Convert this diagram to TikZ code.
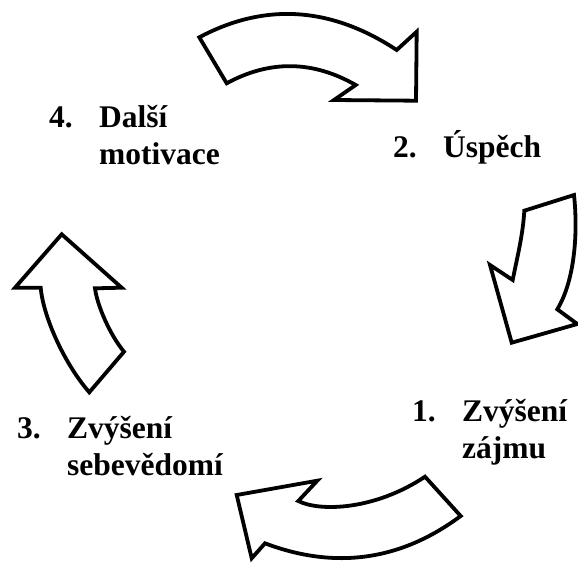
\documentclass[tikz,border=0pt]{standalone}
\usepackage{fontspec}
\setmainfont{Liberation Serif}
\begin{document}
\begin{tikzpicture}[x=1pt,y=-1pt,
  cyclearrow/.style={draw=black,fill=white,line width=3.8pt,line join=miter,miter limit=10},
  lbl/.style={inner sep=0pt,anchor=base west,font=\fontsize{31.5}{37}\selectfont\bfseries}]
\useasboundingbox (0,0) rectangle (578,563);

% top arrow: 4 -> 2
\path[cyclearrow] (199.3,37.3) .. controls (265,2.3) and (331,6.7) .. (396.7,50)
  -- (416.7,31.7) -- (416,100.7) -- (334,100) -- (355.7,85)
  .. controls (312.7,60.4) and (269.7,59.9) .. (226.7,83.3) -- cycle;

% right arrow: 2 -> 1
\path[cyclearrow] (574,195) .. controls (578,232) and (575,280) .. (557.3,309.3)
  -- (577.3,324) -- (511.7,342.7) -- (490,265) -- (512.7,280)
  .. controls (517,258) and (523,235) .. (524.3,210.7) -- cycle;

% bottom arrow: 1 -> 3
\path[cyclearrow] (425,476.7) -- (460.7,516)
  .. controls (400.5,560.7) and (335.2,569.8) .. (265,543.3)
  -- (251.7,558.3) -- (236.7,495) -- (317.3,480.7) -- (298.3,501)
  .. controls (320,512) and (375,510) .. (425,476.7) -- cycle;

% left arrow: 3 -> 4
\path[cyclearrow] (61.7,234.3) -- (121.7,287.7) -- (95,288.3)
  .. controls (97,305) and (110,335) .. (124,351.7)
  -- (89.3,392.3)
  .. controls (63,362) and (43,315) .. (40.7,287.7)
  -- (15,287.7) -- cycle;

% labels
\node[lbl] (n4) at (49,127.5) {4.};
\node[lbl] (t4a) at (99,127.5) {Další};
\node[lbl] (t4b) at (99,164) {motivace};

\node[lbl] (n2) at (393,157.5) {2.};
\node[lbl] (t2) at (443,157.5) {Úspěch};

\node[lbl] (n1) at (412,421.7) {1.};
\node[lbl] (t1a) at (462,421.7) {Zvýšení};
\node[lbl] (t1b) at (462,458.3) {zájmu};

\node[lbl] (n3) at (17,438.3) {3.};
\node[lbl] (t3a) at (67,438.3) {Zvýšení};
\node[lbl] (t3b) at (67,475) {sebevědomí};
\end{tikzpicture}
\end{document}
